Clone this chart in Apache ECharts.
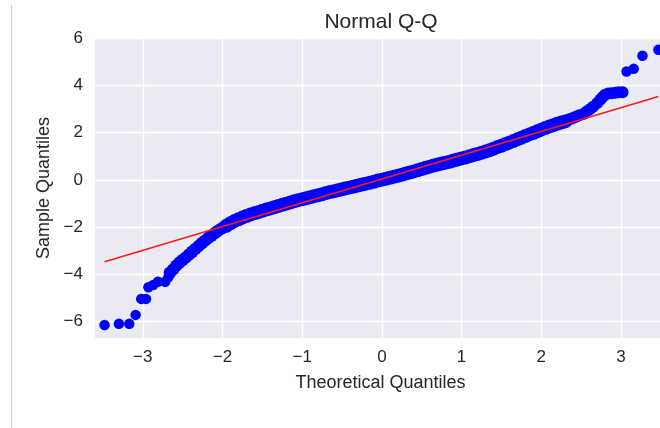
<!DOCTYPE html>
<html>
<head>
<meta charset="utf-8">
<script src="https://cdn.jsdelivr.net/npm/echarts@6/dist/echarts.min.js"></script>
<style>
html,body{margin:0;padding:0;background:#fff;}
#chart{width:660px;height:428px;}
</style>
</head>
<body>
<div id="chart"></div>
<script>
// ---- data ----
const xTicks = [-3, -2, -1, 0, 1, 2, 3];
const yTicks = [-6, -4, -2, 0, 2, 4, 6];

// isolated outliers (theoretical quantile, sample quantile)
const outlierX = [-3.48, -3.30, -3.17, -3.09, -3.02, -2.96, -2.93, -2.87, -2.81, -2.72, -2.68,
                  3.07, 3.16, 3.27, 3.47];
const outlierY = [-6.16, -6.11, -6.11, -5.73, -5.05, -5.05, -4.56, -4.46, -4.32, -4.32, -4.13,
                  4.60, 4.71, 5.27, 5.52];

// lower tail chain
const lowTailX = [-2.66, -2.62, -2.58, -2.54, -2.50, -2.46, -2.42, -2.38, -2.34, -2.30, -2.26,
                  -2.22, -2.18, -2.14, -2.10, -2.06, -2.02, -1.98];
const lowTailY = [-3.94, -3.80, -3.64, -3.51, -3.40, -3.29, -3.17, -3.05, -2.93, -2.81, -2.69,
                  -2.58, -2.47, -2.37, -2.27, -2.17, -2.08, -2.00];

// central dense band
const bandX = [-1.95, -1.90, -1.85, -1.80, -1.75, -1.70, -1.65, -1.60, -1.55, -1.50, -1.45, -1.40,
               -1.35, -1.30, -1.25, -1.20, -1.15, -1.10, -1.05, -1.00, -0.95, -0.90, -0.85, -0.80,
               -0.75, -0.70, -0.65, -0.60, -0.55, -0.50, -0.45, -0.40, -0.35, -0.30, -0.25, -0.20,
               -0.15, -0.10, -0.05, 0.00, 0.05, 0.10, 0.15, 0.20, 0.25, 0.30, 0.35, 0.40,
               0.45, 0.50, 0.55, 0.60, 0.65, 0.70, 0.75, 0.80, 0.85, 0.90, 0.95, 1.00,
               1.05, 1.10, 1.15, 1.20, 1.25, 1.30, 1.35, 1.40, 1.45, 1.50, 1.55, 1.60,
               1.65, 1.70, 1.75, 1.80, 1.85, 1.90, 1.95, 2.00, 2.05, 2.10, 2.15, 2.20, 2.25, 2.30];
const bandY = [-1.95, -1.84, -1.75, -1.67, -1.60, -1.53, -1.47, -1.42, -1.37, -1.31, -1.26, -1.21,
               -1.16, -1.11, -1.06, -1.01, -0.96, -0.91, -0.86, -0.82, -0.78, -0.74, -0.69, -0.65,
               -0.61, -0.56, -0.52, -0.48, -0.44, -0.40, -0.36, -0.32, -0.28, -0.24, -0.20, -0.16,
               -0.12, -0.08, -0.03, 0.01, 0.05, 0.09, 0.13, 0.17, 0.22, 0.27, 0.31, 0.36,
               0.41, 0.46, 0.51, 0.56, 0.61, 0.65, 0.69, 0.73, 0.77, 0.82, 0.86, 0.91,
               0.95, 1.00, 1.05, 1.10, 1.15, 1.20, 1.26, 1.32, 1.39, 1.45, 1.52, 1.58,
               1.65, 1.72, 1.79, 1.86, 1.93, 1.99, 2.06, 2.13, 2.20, 2.26, 2.32, 2.38, 2.43, 2.48];

// upper tail chain
const upTailX = [2.33, 2.36, 2.39, 2.42, 2.45, 2.48, 2.53, 2.57, 2.61, 2.65, 2.70, 2.74, 2.77, 2.80, 2.84, 2.88, 2.93, 2.97, 3.02];
const upTailY = [2.53, 2.58, 2.62, 2.66, 2.70, 2.74, 2.80, 2.90, 3.00, 3.10, 3.25, 3.40, 3.52, 3.61, 3.66, 3.68, 3.70, 3.72, 3.72];

// reference line end points
const lineX = [-3.48, 3.47];
const lineY = [-3.47, 3.54];

const zip = (a, b) => a.map((v, i) => [v, b[i]]);
const minus = v => String(v).replace('-', '\u2212');
const FONT = '"Liberation Sans", Arial, sans-serif';
const TXT = '#262626';

const chart = echarts.init(document.getElementById('chart'), null, {renderer: 'canvas'});
chart.setOption({
  animation: false,
  backgroundColor: '#ffffff',
  grid: {left: 95, top: 38, right: 0, bottom: 90, show: true, backgroundColor: '#EAEAF2', borderWidth: 0},
  xAxis: {
    type: 'value', min: -3.6, max: 3.49,
    name: 'Theoretical Quantiles', nameLocation: 'middle', nameGap: 36,
    nameTextStyle: {fontFamily: FONT, fontSize: 18, color: TXT, padding: [0, 0, 0, 6]},
    axisLine: {show: false}, axisTick: {show: false, customValues: xTicks},
    axisLabel: {customValues: xTicks, formatter: minus, fontFamily: FONT, fontSize: 17, color: TXT, margin: 11},
    splitLine: {show: true, lineStyle: {color: '#ffffff', width: 1.3}}
  },
  yAxis: {
    type: 'value', min: -6.71, max: 6.02,
    name: 'Sample Quantiles', nameLocation: 'middle', nameGap: 41,
    nameTextStyle: {fontFamily: FONT, fontSize: 18, color: TXT},
    axisLine: {show: false}, axisTick: {show: false, customValues: yTicks},
    axisLabel: {customValues: yTicks, formatter: minus, fontFamily: FONT, fontSize: 17, color: TXT, margin: 12},
    splitLine: {show: true, lineStyle: {color: '#ffffff', width: 1.3}}
  },
  graphic: [
    {type: 'line', shape: {x1: 11.5, y1: 5, x2: 11.5, y2: 428}, style: {stroke: '#cfcfcf', lineWidth: 1}},
    {type: 'text', x: 381, y: 22, style: {text: 'Normal Q-Q', fontFamily: FONT, fontSize: 21, fill: TXT, align: 'center', verticalAlign: 'middle'}}
  ],
  series: [
    {type: 'scatter', data: zip(bandX, bandY), symbolSize: 14, itemStyle: {color: '#0000ff', opacity: 1}, z: 2},
    {type: 'scatter', data: zip(lowTailX, lowTailY), symbolSize: 12.5, itemStyle: {color: '#0000ff', opacity: 1}, z: 2},
    {type: 'scatter', data: zip(upTailX, upTailY), symbolSize: 12, itemStyle: {color: '#0000ff', opacity: 1}, z: 2},
    {type: 'scatter', data: zip(outlierX, outlierY), symbolSize: 10.5, itemStyle: {color: '#0000ff', opacity: 1}, z: 2},
    {type: 'line', data: zip(lineX, lineY), symbol: 'none', lineStyle: {color: '#ff1a1a', width: 1.6}, z: 5}
  ]
});
</script>
</body>
</html>
